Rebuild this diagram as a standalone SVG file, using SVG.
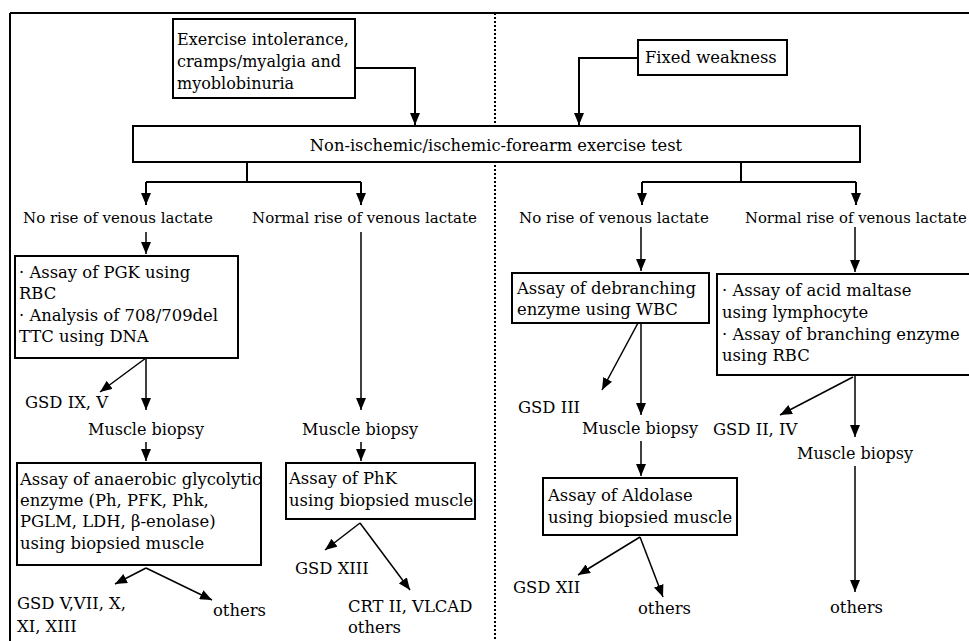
<svg xmlns="http://www.w3.org/2000/svg" width="969" height="641" viewBox="0 0 969 641">
<defs>
<marker id="ah" viewBox="0 0 12 10" refX="12" refY="5" markerWidth="12" markerHeight="10" markerUnits="userSpaceOnUse" orient="auto">
<path d="M0,0 L12,5 L0,10 z" fill="#000"/>
</marker>
<style>
text{font-family:"DejaVu Serif","Liberation Serif",serif;font-size:16.4px;fill:#000}
.big{font-size:16px}
.lab{font-size:15px}
.mb{font-size:16px}
.box{fill:#fff;stroke:#000;stroke-width:2}
.c{fill:none;stroke:#000;stroke-width:2}
.d{fill:none;stroke:#000;stroke-width:1.5}
.a{marker-end:url(#ah)}
</style>
</defs>
<rect width="969" height="641" fill="#fff"/>
<g id="frame">
<path d="M10,13 H969 M10,13 V641" fill="none" stroke="#000" stroke-width="2"/>
<path d="M495,13 V641" fill="none" stroke="#000" stroke-width="2" stroke-dasharray="2 2"/>
</g>
<g id="connectors">
<path class="c a" d="M355,68 H415 V125"/>
<path class="c a" d="M638,58 H579 V125"/>
<path class="c" d="M247,162 V182 M146,182 H361 M741,162 V182 M642,182 H856"/>
<path class="c a" d="M146,182 V205"/>
<path class="c a" d="M361,182 V205"/>
<path class="c a" d="M642,182 V205"/>
<path class="c a" d="M856,182 V205"/>
<path class="d a" d="M146,232 V254"/>
<path class="d a" d="M361,232 V410"/>
<path class="d a" d="M146,358 V410"/>
<path class="d a" d="M146,358 L100,392"/>
<path class="d a" d="M146,442 V461"/>
<path class="d a" d="M361,442 V461"/>
<path class="d a" d="M146,568 L115,584"/>
<path class="d a" d="M146,568 L212,600"/>
<path class="d a" d="M360,523 L325,550"/>
<path class="d a" d="M360,523 L410,590"/>
<path class="d a" d="M641,227 V271"/>
<path class="d a" d="M855,227 V272"/>
<path class="d a" d="M641,323 V415"/>
<path class="d a" d="M638,323 L602,390"/>
<path class="d a" d="M641,441 V476"/>
<path class="d a" d="M640,537 L578,575"/>
<path class="d a" d="M640,537 L663,597"/>
<path class="d a" d="M855,375 V437"/>
<path class="d a" d="M853,377 L780,415"/>
<path class="d a" d="M855,466 V592"/>
</g>
<g id="n_exercise">
<rect class="box" x="173" y="19" width="182" height="79"/>
<text class="big" x="177" y="45">Exercise intolerance,</text>
<text class="big" x="177" y="67">cramps/myalgia and</text>
<text class="big" x="177" y="89">myoblobinuria</text>
</g>
<g id="n_fixed">
<rect class="box" x="638" y="40" width="149" height="35"/>
<text x="645" y="63">Fixed weakness</text>
</g>
<g id="n_test">
<rect class="box" x="133" y="126" width="727" height="36"/>
<text x="496" y="151" text-anchor="middle" style="font-size:16.3px">Non-ischemic/ischemic-forearm exercise test</text>
</g>
<g id="l_norise1"><text class="lab" x="23" y="223">No rise of venous lactate</text></g>
<g id="l_normal1"><text class="lab" x="252" y="223">Normal rise of venous lactate</text></g>
<g id="l_norise2"><text class="lab" x="519" y="223">No rise of venous lactate</text></g>
<g id="l_normal2"><text class="lab" x="745" y="223" style="font-size:14.8px">Normal rise of venous lactate</text></g>
<g id="n_pgk">
<rect class="box" x="15" y="256" width="223" height="102"/>
<text x="19" y="278">· Assay of PGK using</text>
<text x="19" y="299">RBC</text>
<text x="19" y="321">· Analysis of 708/709del</text>
<text x="19" y="342">TTC using DNA</text>
</g>
<g id="l_gsd9"><text x="25" y="408">GSD IX, V</text></g>
<g id="l_mb1"><text class="mb" x="88" y="435">Muscle biopsy</text></g>
<g id="l_mb2"><text class="mb" x="302" y="435">Muscle biopsy</text></g>
<g id="n_anaer">
<rect class="box" x="17" y="463" width="244" height="102"/>
<text x="20" y="485">Assay of anaerobic glycolytic</text>
<text x="20" y="506">enzyme (Ph, PFK, Phk,</text>
<text x="20" y="527">PGLM, LDH, β-enolase)</text>
<text x="20" y="549">using biopsied muscle</text>
</g>
<g id="l_gsd5"><text x="17" y="609">GSD V,VII, X,</text><text x="17" y="632">XI, XIII</text></g>
<g id="l_oth1"><text x="213" y="616">others</text></g>
<g id="n_phk">
<rect class="box" x="286" y="463" width="189" height="56"/>
<text x="289" y="484">Assay of PhK</text>
<text x="289" y="506">using biopsied muscle</text>
</g>
<g id="l_gsd13"><text x="295" y="574">GSD XIII</text></g>
<g id="l_crt"><text x="348" y="612">CRT II, VLCAD</text><text x="348" y="633">others</text></g>
<g id="n_debr">
<rect class="box" x="512" y="273" width="197" height="50"/>
<text x="517" y="294">Assay of debranching</text>
<text x="517" y="315">enzyme using WBC</text>
</g>
<g id="n_acid">
<rect class="box" x="717" y="274" width="262" height="101"/>
<text x="722" y="296">· Assay of acid maltase</text>
<text x="722" y="318">using lymphocyte</text>
<text x="722" y="340">· Assay of branching enzyme</text>
<text x="722" y="361">using RBC</text>
</g>
<g id="l_gsd3"><text x="518" y="413">GSD III</text></g>
<g id="l_mb3"><text class="mb" x="582" y="434">Muscle biopsy</text></g>
<g id="l_gsd2"><text x="713" y="435">GSD II, IV</text></g>
<g id="l_mb4"><text class="mb" x="797" y="459">Muscle biopsy</text></g>
<g id="n_aldo">
<rect class="box" x="543" y="478" width="194" height="57"/>
<text x="548" y="501">Assay of Aldolase</text>
<text x="548" y="523">using biopsied muscle</text>
</g>
<g id="l_gsd12"><text x="513" y="593">GSD XII</text></g>
<g id="l_oth3"><text x="638" y="614">others</text></g>
<g id="l_oth4"><text x="830" y="613">others</text></g>
</svg>
